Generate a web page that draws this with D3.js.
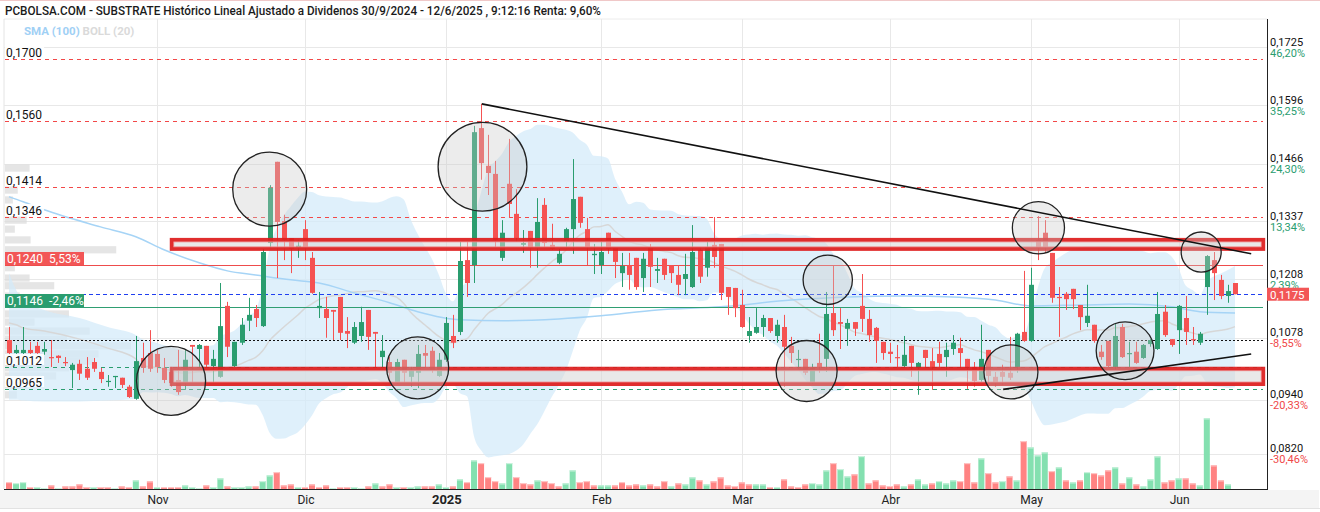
<!DOCTYPE html>
<html><head><meta charset="utf-8">
<script src="https://cdn.jsdelivr.net/npm/d3@7"></script>
<style>body{margin:0;background:#fff;} svg{display:block;font-family:Roboto,"Noto Sans",Arial,sans-serif;}</style>
</head><body><svg id="c" width="1320" height="512"></svg>
<script>
// ---------------- DATA ----------------
const titleText = "PCBOLSA.COM - SUBSTRATE Histórico Lineal Ajustado a Dividenos 30/9/2024 - 12/6/2025 , 9:12:16 Renta: 9,60%";
const startDate = "2024-10-03", endDate = "2025-06-12";
const holidays = ["2024-12-25","2024-12-26","2025-01-01","2025-04-18","2025-04-21","2025-05-01"];
const monthNames = ["Ene","Feb","Mar","Abr","May","Jun","Jul","Ago","Sep","Oct","Nov","Dic"];

const open = [.1073,.1044,.1044,.1051,.1060,.1047,.1035,.1038,.1024,.1006,
.1020,.1009,.1024,.1002,.0980,.0991,.0989,.0969,.0942,.1033,
.1044,.1042,.1011,.1002,.0984,.0977,.1062,.1053,.1060,.1015,
.0991,.1149,.1015,.1067,.1116,.1142,.1104,.1289,.1470,.1338,
.1300,.1278,.1320,.1256,.1144,.1142,.1140,.1169,.1093,.1067,
.1082,.1140,.1091,.1035,.1024,.0977,.1029,.0991,.1000,.1044,
.1049,.0993,.1029,.1082,.1091,.1251,.1240,.1545,.1461,.1443,
.1256,.1421,.1354,.1285,.1316,.1278,.1374,.1285,.1245,.1292,
.1320,.1392,.1320,.1262,.1240,.1312,.1278,.1222,.1240,.1256,
.1211,.1280,.1227,.1254,.1240,.1218,.1209,.1191,.1274,.1234,
.1285,.1287,.1191,.1189,.1151,.1082,.1089,.1102,.1122,.1082,
.1102,.1060,.1029,.1031,.0977,.1022,.1031,.1133,.1113,.1098,
.1113,.1149,.1120,.1100,.1069,.1047,.1035,.1015,.1060,.1011,
.1051,.1026,.1042,.1035,.1053,.1055,.1031,.1013,.0984,.1051,
.0991,.1002,.1000,.1013,.1091,.1071,.1296,.1312,.1267,.1169,
.1176,.1187,.1151,.1111,.1107,.1047,.1071,.1013,.1102,.1042,
.1047,.1033,.1064,.1053,.1136,.1075,.1095,.1122,.1075,.1067,
.1191,.1251,.1207,.1171,.1200];
const high = [.1102,.1062,.1102,.1069,.1069,.1069,.1073,.1039,.1035,.1022,
.1029,.1035,.1033,.1011,.0995,.0993,.0989,.0973,.1082,.1067,
.1095,.1051,.1033,.1013,.1051,.1051,.1062,.1064,.1060,.1051,
.1200,.1158,.1069,.1122,.1167,.1151,.1276,.1418,.1470,.1352,
.1300,.1296,.1340,.1269,.1180,.1169,.1140,.1169,.1124,.1113,
.1147,.1140,.1091,.1084,.1035,.1031,.1029,.1013,.1062,.1062,
.1058,.1044,.1124,.1129,.1292,.1292,.1550,.1599,.1530,.1472,
.1340,.1521,.1409,.1318,.1316,.1389,.1389,.1332,.1276,.1323,
.1476,.1392,.1345,.1287,.1296,.1312,.1278,.1267,.1267,.1256,
.1267,.1287,.1256,.1254,.1240,.1240,.1265,.1329,.1280,.1292,
.1347,.1287,.1191,.1189,.1185,.1124,.1144,.1129,.1122,.1118,
.1129,.1080,.1051,.1031,.1020,.1087,.1180,.1238,.1144,.1120,
.1113,.1220,.1140,.1102,.1069,.1067,.1062,.1082,.1060,.1024,
.1051,.1055,.1069,.1067,.1084,.1078,.1031,.1024,.1107,.1051,
.1002,.1018,.1080,.1089,.1227,.1234,.1349,.1340,.1267,.1191,
.1180,.1187,.1151,.1196,.1107,.1062,.1071,.1111,.1109,.1069,
.1069,.1064,.1075,.1180,.1151,.1075,.1151,.1171,.1102,.1091,
.1262,.1269,.1218,.1196,.1200];
const low = [.1040,.1042,.1042,.1042,.1042,.1040,.1013,.1022,.1015,.0966,
.0984,.0984,.1002,.0977,.0969,.0966,.0966,.0944,.0940,.1000,
.1002,.1000,.0977,.0969,.0951,.0962,.0977,.1013,.1013,.0977,
.0989,.1035,.1013,.1062,.1093,.1102,.1102,.1278,.1211,.1251,
.1222,.1256,.1251,.1176,.1122,.1078,.1073,.1073,.1055,.1064,
.1069,.1051,.1011,.1011,.0984,.0975,.0977,.0969,.0966,.1011,
.1000,.0991,.1024,.1055,.1084,.1169,.1200,.1430,.1396,.1280,
.1249,.1347,.1292,.1267,.1234,.1234,.1280,.1274,.1242,.1280,
.1265,.1323,.1240,.1220,.1220,.1265,.1211,.1191,.1185,.1185,
.1180,.1191,.1200,.1207,.1200,.1173,.1173,.1189,.1200,.1214,
.1234,.1162,.1129,.1124,.1100,.1067,.1087,.1080,.1089,.1067,
.0969,.1022,.1009,.0995,.0975,.1000,.1002,.1082,.1053,.1060,
.1082,.1091,.1069,.1022,.1029,.1022,.1013,.1013,.0991,.0951,
.1011,.0962,.1013,.0991,.1040,.1013,.0964,.0969,.0980,.0977,
.0969,.0973,.0984,.1000,.1069,.1069,.1251,.1267,.1156,.1080,
.1140,.1142,.1095,.1102,.1067,.1029,.1013,.1006,.1033,.1013,
.1020,.1031,.1058,.1051,.1080,.1058,.1042,.1062,.1062,.1062,
.1129,.1162,.1164,.1156,.1175];
const close = [.1044,.1051,.1051,.1044,.1044,.1053,.1033,.1033,.1022,.1018,
.0998,.0989,.1009,.0986,.0982,.0993,.0973,.0946,.1026,.1011,
.1009,.1013,.0984,.0977,.0957,.1029,.1058,.1062,.1018,.1031,
.1104,.1058,.1069,.1107,.1129,.1122,.1269,.1412,.1336,.1296,
.1276,.1283,.1280,.1178,.1149,.1122,.1136,.1089,.1087,.1102,
.1113,.1080,.1087,.1049,.1000,.1024,.1000,.1006,.1042,.1038,
.1006,.1029,.1111,.1067,.1249,.1200,.1536,.1467,.1445,.1296,
.1312,.1376,.1300,.1289,.1278,.1336,.1289,.1276,.1265,.1320,
.1387,.1334,.1280,.1265,.1269,.1276,.1247,.1238,.1218,.1191,
.1254,.1236,.1231,.1218,.1222,.1196,.1220,.1269,.1214,.1280,
.1258,.1178,.1169,.1144,.1102,.1093,.1102,.1122,.1093,.1107,
.1058,.1044,.1031,.1000,.1011,.1013,.1131,.1095,.1109,.1111,
.1098,.1120,.1084,.1071,.1044,.1042,.1033,.1040,.1022,.1022,
.1033,.1013,.1022,.1051,.1067,.1044,.1013,.0982,.1031,.0993,
.0977,.0991,.0989,.1087,.1071,.1196,.1278,.1280,.1167,.1167,
.1164,.1164,.1124,.1127,.1071,.1035,.1015,.1082,.1035,.1044,
.1022,.1062,.1073,.1131,.1084,.1062,.1149,.1091,.1073,.1087,
.1260,.1222,.1171,.1182,.1175];
const volume = [70,60,70,20,20,10,37,10,27,27,
47,20,20,20,20,10,27,20,87,27,
77,20,20,20,20,37,20,10,37,20,
107,27,20,20,27,27,80,137,170,37,
47,20,20,47,20,37,10,20,20,20,
10,27,57,27,47,20,20,20,27,27,
27,47,20,27,97,70,287,260,120,80,
57,260,120,60,47,87,80,60,27,57,
187,70,80,37,37,37,37,70,37,47,
37,47,27,80,27,57,47,117,87,47,
77,117,37,30,67,47,47,47,20,20,
97,27,20,47,60,47,187,260,200,127,
147,330,57,87,37,30,47,27,47,97,
47,57,80,57,87,80,260,67,307,160,
67,80,127,87,480,417,337,367,180,217,
87,67,87,170,160,137,187,217,57,117,
47,27,97,327,67,87,107,107,57,37,
707,237,87,47,0];

// SMA(100) (bar index, value)
const smaIdx = [0,2,5,13,18,22,27,31,35,40,44,49,54,58,64,70,78,84,92,101,111,119,127,134,140,145,152,159,165,169,174];
const smaVal = [.1392,.1381,.1363,.1325,.1303,.1274,.1245,.1227,.1218,.1207,.1200,.1178,.1156,.1136,.1118,.1116,.1120,.1127,.1140,.1147,.1162,.1169,.1171,.1169,.1162,.1149,.1151,.1153,.1147,.1136,.1133];
// BOLL(20) before a full 20-bar window is available
const bollEarlyIdx = [0,1,2,5,10,14,18];
const bollEarlyUp  = [.1222,.1185,.1162,.1140,.1122,.1102,.1084];
const bollEarlyMid = [.1111,.1107,.1100,.1093,.1075,.1055,.1031];
const bollEarlyLow = [.0940,.0940,.0938,.0936,.0936,.0938,.0942];

// volume-at-price profile (left)
const vpPrice = [.1456,.1407,.1385,.1363,.1340,.1320,.1296,.1274,.1251,.1234,.1211,.1194,.1171,.1153,.1131,.1113,.1093,.1075,.1060,.1042,.1026,.1011,.0993,.0973,.0951];
const vpVol   = [25,13,8,20,22,10,26,113,80,10,25,50,15,20,65,30,86,63,128,95,90,65,52,22,12];

// axis ticks
const rightTicks = [.1725,.1596,.1466,.1337,.1208,.1078,.0940,.0820];
const rightPct = ["46,20%","35,25%","24,30%","13,34%","2,39%","-8,55%","-20,33%","-30,46%"];

// horizontal levels
const redDashLevels = [.1700,.1560,.1414,.1346];
const greenDashLevels = [.1012,.0965];
const resistLevel = .1240, resistPct = "5,53%";
const supportLevel = .1146, supportPct = "-2,46%";
const lastPrice = .1175;
const dottedLevel = .1073;

// drawings: circles (bar index, price, radius in bars)
const circIdx   = [23.0,37.0,67.2,58.0,113.2,116.2,146.1,142.2,158.4,169.2];
const circPrice = [.0982,.1409,.1459,.1011,.1004,.1207,.1323,.1002,.1049,.1269];
const circR     = [4.9,5.25,6.3,4.4,4.33,3.5,3.7,3.83,4.1,2.84];
// rectangles
const rectIdxFrom = [23.1,23.1], rectIdxTo = [178.0,178.0];
const rectTop = [.1296,.1009], rectBottom = [.1276,.0975];
// trend lines
const trendIdx0 = [67.1,141.1], trendP0 = [.1599,.0963];
const trendIdx1 = [176.3,176.3], trendP1 = [.1265,.1042];

// ---------------- CHART ----------------
const svg = d3.select("#c");
const n = close.length;
const P = {l:4, r:1267, t:19, b:489};
const loc = d3.formatLocale({decimal:",", thousands:".", grouping:[3], currency:["","€"]});
const f4 = loc.format(".4f");

const x = d3.scaleLinear().domain([0, n-1]).range([9, 1235]);
const step = x(1) - x(0);
const y = d3.scaleLinear().domain([0.0820, 0.1725]).range([453.6, 47.3]);
const yv = d3.scaleLinear().domain([0, d3.max(volume)]).range([P.b, P.b - 70.7]);
const vpX = d3.scaleLinear().domain([0, d3.max(vpVol)]).range([0, 126]);

// dates
const parse = d3.timeParse("%Y-%m-%d"), fmtD = d3.timeFormat("%Y-%m-%d");
const hol = new Set(holidays);
const dates = d3.timeDay.range(parse(startDate), d3.timeDay.offset(parse(endDate),1))
  .filter(d => d.getDay()!==0 && d.getDay()!==6 && !hol.has(fmtD(d)));
const monthStarts = [];
dates.forEach((d,i)=>{ if(i>0 && d.getMonth()!==dates[i-1].getMonth()) monthStarts.push({i, d}); });

// frame
svg.append("rect").attr("x",0).attr("y",0).attr("width",1320).attr("height",512).attr("fill","#fff");
svg.append("line").attr("x1",0).attr("x2",1320).attr("y1",0.5).attr("y2",0.5).attr("stroke","#f0c8c8");
svg.append("text").attr("x",5).attr("y",15).attr("font-size",13.5).attr("font-weight",500).attr("fill","#1a1a1a")
  .attr("textLength",596).attr("lengthAdjust","spacingAndGlyphs").text(titleText);
svg.append("line").attr("x1",P.l).attr("x2",P.r).attr("y1",P.t).attr("y2",P.t).attr("stroke","#ececec");
svg.append("line").attr("x1",P.l).attr("x2",P.l).attr("y1",P.t).attr("y2",P.b).attr("stroke","#e4e4e4");

// grid
svg.append("g").selectAll("line").data(rightTicks).join("line")
  .attr("x1",P.l).attr("x2",P.r).attr("y1",d=>Math.round(y(d))+0.5).attr("y2",d=>Math.round(y(d))+0.5)
  .attr("stroke","#e8e8e8");
svg.append("g").selectAll("line").data(monthStarts).join("line")
  .attr("x1",d=>Math.round(x(d.i))+0.5).attr("x2",d=>Math.round(x(d.i))+0.5).attr("y1",P.t).attr("y2",P.b)
  .attr("stroke","#e8e8e8");

// legend
const lg = svg.append("text").attr("x",24).attr("y",35).attr("font-size",11.5).attr("font-weight",700);
lg.append("tspan").attr("fill","#9fd0f5").text("SMA (100) ");
lg.append("tspan").attr("fill","#dadada").text("BOLL (20)");

// volume profile
svg.append("g").selectAll("rect").data(vpPrice).join("rect")
  .attr("x",P.l+1).attr("y",d=>y(d)-3.6).attr("height",7.2)
  .attr("width",(d,k)=>vpX(vpVol[k])).attr("fill","#dcdcdc").attr("opacity",0.75);

// Bollinger bands
const boll = bollEarlyIdx.map((i,k)=>({i, up:bollEarlyUp[k], mid:bollEarlyMid[k], lo:bollEarlyLow[k]}));
for(let i=19;i<n;i++){
  const w = close.slice(i-19,i+1), m = d3.mean(w), s = Math.sqrt(d3.mean(w,v=>(v-m)*(v-m)));
  boll.push({i, up:m+2*s, mid:m, lo:m-2*s});
}
svg.append("path").datum(boll).attr("fill","#d3eafa").attr("opacity",0.72)
  .attr("d", d3.area().curve(d3.curveMonotoneX).x(d=>x(d.i)).y0(d=>y(d.lo)).y1(d=>y(d.up)));
svg.append("path").datum(boll).attr("fill","none").attr("stroke","#d7d7d7").attr("stroke-width",1.5)
  .attr("d", d3.line().curve(d3.curveMonotoneX).x(d=>x(d.i)).y(d=>y(d.mid)));

// SMA 100
svg.append("path").datum(smaIdx.map((i,k)=>({i, v:smaVal[k]}))).attr("fill","none")
  .attr("stroke","#a6d4f6").attr("stroke-width",1.5)
  .attr("d", d3.line().curve(d3.curveMonotoneX).x(d=>x(d.i)).y(d=>y(d.v)));

// horizontal levels
function hline(v, color, dash, w){
  svg.append("line").attr("x1",P.l+1).attr("x2",P.r-4).attr("y1",Math.round(y(v))+0.5).attr("y2",Math.round(y(v))+0.5)
    .attr("stroke",color).attr("stroke-width",w||1).attr("stroke-dasharray",dash||null);
}
redDashLevels.forEach(v=>hline(v,"#f24848","4,4"));
greenDashLevels.forEach(v=>hline(v,"#2a9d6f","4,4"));
hline(resistLevel,"#ee4c4c");
hline(supportLevel,"#2f9e72");
hline(lastPrice,"#1f3ff0","4,3");
hline(dottedLevel,"#111","2,2");

// volume bars
const vg = svg.append("g");
volume.forEach((v,i)=>{
  if(!v) return;
  const up = i===0 ? close[0]>=open[0] : close[i]>=close[i-1];
  const y0 = yv(v);
  vg.append("rect").attr("x",x(i)-3).attr("width",6).attr("y",y0).attr("height",P.b-y0)
    .attr("fill", up ? "#84e0b0" : "#ff8383");
  vg.append("rect").attr("x",x(i)-3).attr("width",6).attr("y",y0).attr("height",Math.min(1.2,P.b-y0))
    .attr("fill", up ? "#c9f2dd" : "#ffc4c4");
});

// candles
const cg = svg.append("g");
close.forEach((c,i)=>{
  const o = open[i], up = c>=o, col = up ? "#2a9d6f" : "#f55252";
  const xc = Math.round(x(i))+0.5;
  cg.append("line").attr("x1",xc).attr("x2",xc).attr("y1",y(high[i])).attr("y2",y(low[i])).attr("stroke",col);
  const top = y(Math.max(o,c)), bot = y(Math.min(o,c));
  cg.append("rect").attr("x",xc-2.5).attr("width",5).attr("y",top).attr("height",Math.max(1.2,bot-top)).attr("fill",col);
});

// rectangles
rectTop.forEach((t,k)=>{
  const x0 = x(rectIdxFrom[k]), x1 = x(rectIdxTo[k]);
  svg.append("rect").attr("x",x0).attr("y",y(t)).attr("width",x1-x0).attr("height",y(rectBottom[k])-y(t))
    .attr("fill","rgba(215,215,215,0.55)").attr("stroke","#dd1c1c").attr("stroke-width",4).attr("stroke-opacity",0.92);
  svg.append("rect").attr("x",x0+2).attr("y",y(t)+2).attr("width",x1-x0-4).attr("height",y(rectBottom[k])-y(t)-4)
    .attr("fill","none").attr("stroke","#f08a8a").attr("stroke-width",0.8);
});

// circles
svg.append("g").selectAll("circle").data(circIdx).join("circle")
  .attr("cx",d=>x(d)).attr("cy",(d,k)=>y(circPrice[k])).attr("r",(d,k)=>circR[k]*step)
  .attr("fill","rgba(200,200,200,0.35)").attr("stroke","#222").attr("stroke-width",1.3);

// trend lines
trendIdx0.forEach((i0,k)=>{
  svg.append("line").attr("x1",x(i0)).attr("y1",y(trendP0[k])).attr("x2",x(trendIdx1[k])).attr("y2",y(trendP1[k]))
    .attr("stroke","#111").attr("stroke-width",1.6);
});

// left level labels
function leftLabel(v, txt){
  const g = svg.append("g");
  const t = g.append("text").attr("x",6).attr("y",Math.round(y(v))-2).attr("font-size",12).attr("fill","#111").text(txt);
  const w = t.node().getComputedTextLength();
  g.insert("rect","text").attr("x",5).attr("y",Math.round(y(v))-13).attr("width",w+3).attr("height",11).attr("fill","#fff").attr("opacity",0.9);
}
redDashLevels.forEach(v=>leftLabel(v,f4(v)));
greenDashLevels.forEach(v=>leftLabel(v,f4(v)));
function boxLabel(v, pct, color){
  const yy = Math.round(y(v));
  svg.append("rect").attr("x",5).attr("y",yy-13).attr("width",79).attr("height",13).attr("fill",color);
  svg.append("text").attr("x",7).attr("y",yy-2).attr("font-size",12).attr("fill","#fff")
    .text(f4(v)+"\u00a0\u00a0"+pct);
}
boxLabel(resistLevel, resistPct, "#f25656");
boxLabel(supportLevel, supportPct, "#2a9d6f");

// plot border (right + bottom)
svg.append("line").attr("x1",P.r+0.5).attr("x2",P.r+0.5).attr("y1",P.t).attr("y2",P.b).attr("stroke","#222");
svg.append("rect").attr("x",0).attr("y",P.b+1).attr("width",P.r+52).attr("height",18).attr("fill","#f4f4f4");
svg.append("line").attr("x1",P.l).attr("x2",P.r+1).attr("y1",P.b+0.5).attr("y2",P.b+0.5).attr("stroke","#222");
svg.append("line").attr("x1",0).attr("x2",1320).attr("y1",P.b+19.5).attr("y2",P.b+19.5).attr("stroke","#e2e2e2");

// right axis
const ra = svg.append("g");
rightTicks.forEach((v,k)=>{
  const yy = y(v);
  ra.append("text").attr("x",P.r+3).attr("y",yy-1.5).attr("font-size",11).attr("fill","#111").text(f4(v));
  ra.append("text").attr("x",P.r+3).attr("y",yy+9.5).attr("font-size",11)
    .attr("fill", rightPct[k].startsWith("-") ? "#f04848" : "#2a9d6f").text(rightPct[k]);
});
// last price tag
const ly = y(lastPrice);
svg.append("rect").attr("x",P.r).attr("y",ly-6.5).attr("width",42).attr("height",13).attr("fill","#f25656");
svg.append("text").attr("x",P.r+3).attr("y",ly+4.5).attr("font-size",11.5).attr("fill","#fff").text(f4(lastPrice));

// x axis labels
svg.append("g").selectAll("text").data(monthStarts).join("text")
  .attr("x",d=>x(d.i)+1).attr("y",504).attr("text-anchor","middle")
  .attr("font-size",d=>d.d.getMonth()===0?13:12).attr("font-weight",d=>d.d.getMonth()===0?700:400).attr("fill","#222")
  .text(d=>d.d.getMonth()===0 ? d.d.getFullYear() : monthNames[d.d.getMonth()]);
</script>
</body></html>
